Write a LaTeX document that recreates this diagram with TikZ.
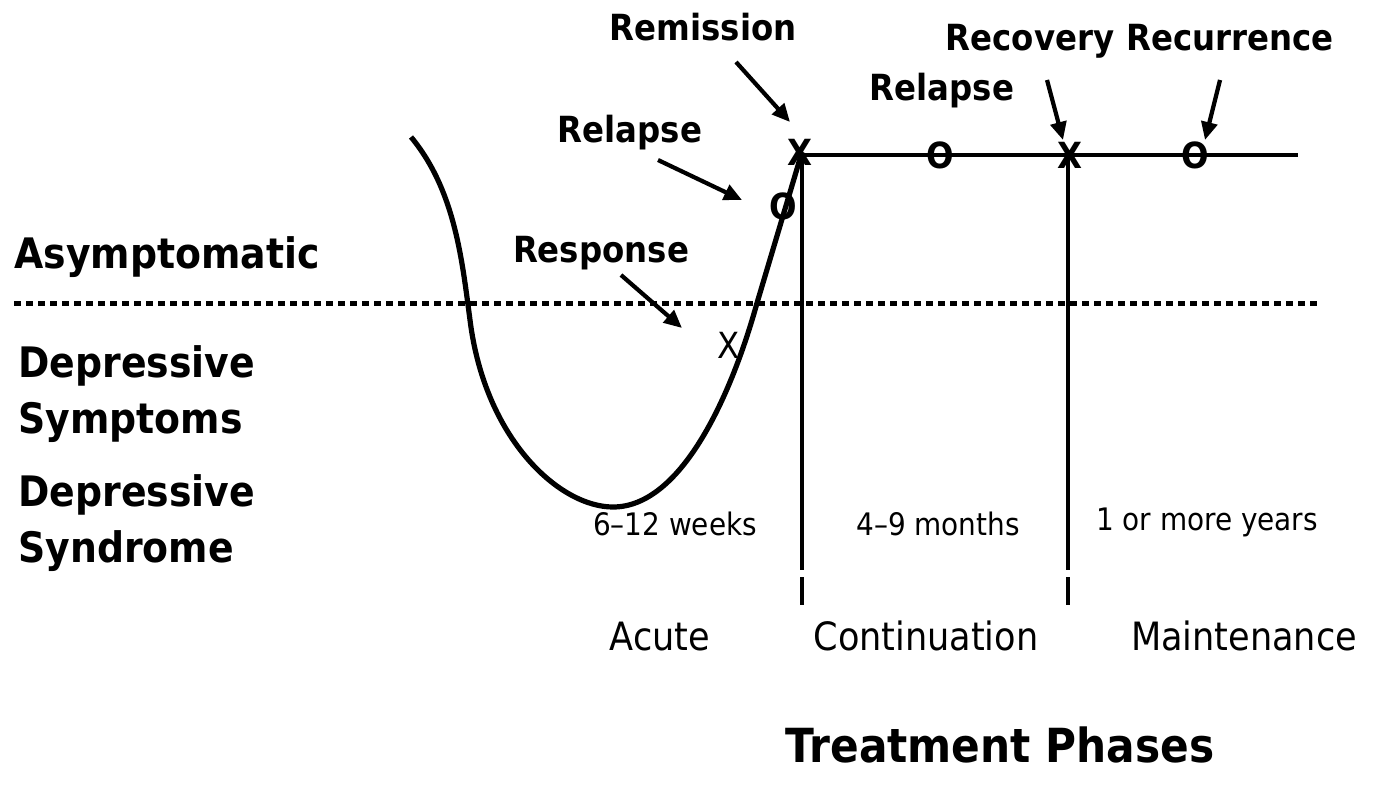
\documentclass[tikz,border=0pt]{standalone}
\usepackage{fontspec}
\setmainfont{DejaVu Sans Condensed}
\usetikzlibrary{arrows.meta}

\begin{document}
\begin{tikzpicture}[x=0.5pt, y=-0.5pt,
  lbl/.style={font=\bfseries\fontsize{18}{20}\selectfont, anchor=base, inner sep=0pt},
  side/.style={font=\bfseries\fontsize{21}{28}\selectfont, anchor=base west,
               align=left, inner sep=0pt},
  phase/.style={font=\fontsize{19.5}{24}\selectfont, anchor=base, inner sep=0pt},
  dur/.style={font=\fontsize{15.5}{18}\selectfont, anchor=base, inner sep=0pt},
  mk/.style={font=\bfseries\fontsize{18}{20}\selectfont, inner sep=0pt},
  ln/.style={line width=2.3pt, line cap=butt},
  arr/.style={-{Triangle[length=9pt,width=8pt]}, line width=2.1pt}
]
\useasboundingbox (0,0) rectangle (1379,788);

% levels on the left
\node[side] (asym) at (14,268) {Asymptomatic};
\node[side] (symp) at (18,433) {Depressive\\Symptoms};
\node[side] (synd) at (18,562) {Depressive\\Syndrome};
\draw[line width=2.5pt, dash pattern=on 3.5pt off 2.5pt] (14,303) -- (1318,303);

% course of the episode
\draw[ln, line width=2.6pt, line join=round]
  (411,137) .. controls (455,190) and (462,260) .. (470,320)
            .. controls (485,440) and (560,507) .. (613,507)
            .. controls (680,507) and (730,400) .. (757,303) -- (802,152);
\coordinate (p0) at (802,155);
\coordinate (pe) at (1298,155);
\draw[ln] (p0) -- (pe);
\foreach \x in {802,1068} {
  \draw[ln] (\x,153) -- (\x,570);
  \draw[ln] (\x,577) -- (\x,605);
}

% markers
\node[mk] (mrem) at (800,152) {X};
\node[mk] (mrel1) at (783,206) {O};
\node[font=\fontsize{18}{20}\selectfont, inner sep=0pt] (mres) at (729,345) {X};
\node[mk] (mrel2) at (940,155) {O};
\node[mk] (mrec) at (1070,155) {X};
\node[mk] (mrecur) at (1195,155) {O};

% event labels
\node[lbl] (rem) at (703,40) {Remission};
\node[lbl] (rel1) at (630,142) {Relapse};
\node[lbl] (rel2) at (942,100) {Relapse};
\node[lbl] (res) at (601,262) {Response};
\node[lbl] (rec) at (1030,50) {Recovery};
\node[lbl] (recur) at (1230,50) {Recurrence};

\coordinate (a1) at (736,62);   \coordinate (h1) at (790,122);
\coordinate (a2) at (658,160);  \coordinate (h2) at (742,200);
\coordinate (a3) at (621,275);  \coordinate (h3) at (682,328);
\coordinate (a4) at (1047,80);  \coordinate (h4) at (1063,140);
\coordinate (a5) at (1220,80);  \coordinate (h5) at (1205,140);
\foreach \a/\h in {a1/h1, a2/h2, a3/h3, a4/h4, a5/h5} \draw[arr] (\a) -- (\h);

% durations and phases
\node[dur] (wk) at (675,535) {6–12 weeks};
\node[dur] (mo) at (938,535) {4–9 months};
\node[dur] (yr) at (1207,530) {1 or more years};
\node[phase] (acute) at (660,650) {Acute};
\node[phase] (cont) at (926,650) {Continuation};
\node[phase] (maint) at (1244,650) {Maintenance};
\node[font=\bfseries\fontsize{23.5}{28}\selectfont, anchor=base, inner sep=0pt]
  (tp) at (1000,762) {Treatment Phases};
\end{tikzpicture}
\end{document}
